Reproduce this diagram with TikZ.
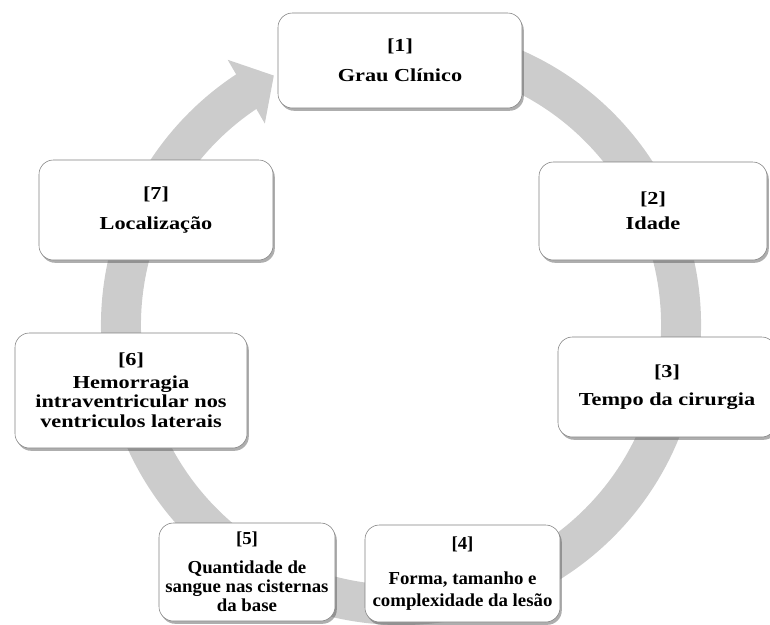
\documentclass[tikz,border=0pt]{standalone}
\usepackage{fontspec}
\setmainfont{Liberation Serif}[FakeStretch=1.22]
\usetikzlibrary{
    arrows.meta,
    bending,
    positioning,
    shadows
}
\tikzset{
    % Colors
    ring color/.style={black!20},
    box border color/.style={draw=black!50},
    %
    % Cycle
    ring arrow/.style={ring color, line width=10mm, -{Triangle[width=18mm,length=8mm]}},
    %
    % Boxes
    stage box/.style={rectangle, rounded corners=3.6mm, box border color, thin, fill=white,
        drop shadow={shadow xshift=0.45mm, shadow yshift=-0.7mm, opacity=0.45, fill=black!70},
        align=center, inner sep=2pt},
    narrow text/.style={font=\fontsize{13}{13.5}\selectfont\bfseries\addfontfeature{FakeStretch=1.03}}
}
\tikzstyle{every node}=[font=\fontsize{13}{14}\selectfont\bfseries]

\begin{document}
\begin{tikzpicture}[x=0.25mm, y=-0.25mm]
        \useasboundingbox (0,0) rectangle (770,624);
        \coordinate (ctr) at (401,325);

        \draw[ring arrow] ([shift={(80:70mm)}]ctr) arc[start angle=80, end angle=-243, radius=70mm];

        \node[stage box, minimum width=61mm, minimum height=23.75mm] (b1) at (400,60.5) {[1]\\[7pt]Grau Clínico};
        \node[stage box, minimum width=57mm, minimum height=24.5mm] (b2) at (653,211) {[2]\\[4pt]Idade};
        \node[stage box, minimum width=54.5mm, minimum height=25mm] (b3) at (667,387) {[3]\\[6pt]Tempo da cirurgia};
        \node[stage box, narrow text, minimum width=48.75mm, minimum height=24.25mm] (b4) at (462.5,573.5) {[4]\\[11pt]Forma, tamanho e\\[2pt]complexidade da lesão};
        \node[stage box, narrow text, minimum width=44mm, minimum height=24.5mm] (b5) at (247,572) {[5]\\[7pt]Quantidade de\\sangue nas cisternas\\da base};
        \node[stage box, minimum width=58mm, minimum height=28.75mm] (b6) at (131,390.5) {[6]\\[2pt]Hemorragia\\intraventricular nos\\ventriculos laterais};
        \node[stage box, minimum width=58.5mm, minimum height=25mm] (b7) at (156,210) {[7]\\[7pt]Localização};
    \end{tikzpicture}
\end{document}
